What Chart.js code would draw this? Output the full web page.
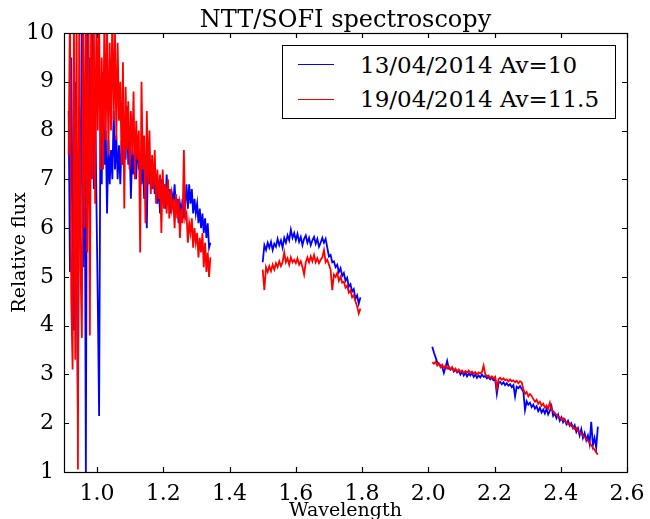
<!DOCTYPE html>
<html>
<head>
<meta charset="utf-8">
<script src="https://cdn.jsdelivr.net/npm/chart.js@4.4.1/dist/chart.umd.min.js"></script>
<style>
  html, body { margin: 0; padding: 0; background: #fff; }
  #wrap { position: relative; width: 650px; height: 519px; font-family: 'DejaVu Serif', serif; }
  #plotTitle { position: absolute; left: 64px; width: 563px; top: 7px; text-align: center;
               font-size: 24px; line-height: 24px; color: #000; }
  #legend { position: absolute; left: 282px; top: 45px; width: 332px; height: 72px;
            border: 1px solid #000; background: #fff; }
  .lg-line { position: absolute; left: 15px; width: 36px; height: 0; border-top: 1.6px solid; }
  .lg-text { position: absolute; left: 77px; font-size: 23px; line-height: 23px; color: #000; white-space: nowrap; }
</style>
</head>
<body>
<div id="wrap">
  <canvas id="spectrum" width="650" height="519"></canvas>
  <div id="plotTitle">NTT/SOFI spectroscopy</div>
  <div id="legend">
    <div class="lg-line" style="top:18px;border-color:#0000ff"></div>
    <div class="lg-text" style="top:8px">13/04/2014 Av=10</div>
    <div class="lg-line" style="top:53px;border-color:#ff0000"></div>
    <div class="lg-text" style="top:42px">19/04/2014 Av=11.5</div>
  </div>
</div>
<script>
// wavelength grids (start, step) of the three observed bands
const seg1Start = 0.914, seg1Step = 0.004;
const seg2Start = 1.500, seg2Step = 0.005;
const seg3Start = 2.012, seg3Step = 0.005;

// 13/04/2014 Av=10 (blue)
const blueBand1 = [
  8.4, 5.1, 9.5, 6.0, 3.9, 9.0, 5.5, 2.25, 8.5, 6.0,
  10.5, 5.2, 9.0, 1.0, 10.5, 6.5, 9.5, 7.0, 10.2, 6.8,
  8.8, 6.5, 4.5, 2.15, 8.3, 6.9, 9.2, 7.3, 8.0, 6.3,
  7.8, 6.9, 7.6, 7.0, 8.4, 7.2, 7.9, 7.0, 7.7, 6.9,
  7.8, 7.3, 8.0, 7.4, 8.5, 7.3, 7.8, 6.6, 7.6, 7.1,
  7.7, 7.0, 7.9, 7.2, 7.5, 6.9, 7.4, 6.6, 7.3, 6.0,
  7.6, 6.9, 7.2, 6.8, 7.25, 6.7, 7.0, 6.5, 6.9, 6.3,
  7.0, 6.6, 6.9, 6.4, 7.1, 6.6, 6.8, 6.3, 6.7, 6.5,
  6.9, 6.4, 6.6, 6.1, 6.5, 6.3, 6.6, 6.2, 6.5, 6.9,
  6.4, 6.9, 6.5, 6.8, 6.3, 6.6, 6.3, 6.5, 6.1, 6.4,
  6.0, 6.3, 5.9, 6.2, 5.8, 6.1, 5.6, 5.7
];
const blueBand2 = [
  5.3, 5.65, 5.55, 5.7, 5.6, 5.72, 5.55, 5.68, 5.62, 5.78,
  5.65, 5.75, 5.6, 5.8, 5.7, 5.85, 5.75, 5.97, 5.8, 5.9,
  5.75, 5.88, 5.72, 5.82, 5.65, 5.78, 5.85, 5.7, 5.8, 5.65,
  5.75, 5.82, 5.68, 5.78, 5.62, 5.7, 5.8, 5.7, 5.78, 5.6,
  5.42, 5.45, 5.3, 5.32, 5.2, 5.25, 5.1, 5.18, 5.02, 5.08,
  4.92, 4.98, 4.8, 4.85, 4.7, 4.75, 4.55, 4.62, 4.45, 4.58
];
const blueBand3 = [
  3.57, 3.45, 3.35, 3.25, 3.22, 3.18, 3.15, 3.03, 3.15, 3.28,
  3.12, 3.1, 3.14, 3.06, 3.1, 3.04, 3.08, 3.0, 3.06, 2.98,
  3.04, 2.96, 3.02, 2.98, 3.03, 2.95, 3.0, 2.93, 2.98, 2.94,
  3.0, 2.95, 2.97, 2.92, 2.95, 2.9, 2.93, 2.88, 2.9, 2.6,
  2.82, 2.85, 2.8, 2.84, 2.78, 2.82, 2.77, 2.8, 2.74, 2.78,
  2.55, 2.75, 2.72, 2.76, 2.7, 2.65, 2.27, 2.45, 2.38, 2.42,
  2.33, 2.38, 2.3, 2.35, 2.25, 2.32, 2.22, 2.28, 2.2, 2.3,
  2.18, 2.25, 2.35, 2.15, 2.2, 2.1, 2.18, 2.05, 2.12, 2.02,
  2.08, 1.98, 2.05, 1.95, 2.0, 1.9, 1.96, 1.82, 1.9, 1.75,
  1.88, 1.7, 1.8, 1.65, 1.75, 1.58, 2.03, 1.55, 1.7, 1.5,
  1.93
];

// 19/04/2014 Av=11.5 (red)
const redBand1 = [
  7.5, 10.5, 4.5, 3.1, 10.5, 3.3, 10.5, 1.05, 10.5, 5.2,
  3.75, 10.5, 6.0, 10.5, 5.5, 10.5, 3.8, 10.5, 7.0, 10.5,
  6.5, 10.5, 8.0, 10.5, 7.2, 9.5, 7.2, 10.5, 7.8, 10.2,
  7.5, 9.8, 8.0, 10.5, 8.2, 10.0, 7.8, 9.8, 8.2, 9.0,
  7.3, 9.4, 6.4, 8.9, 7.6, 8.6, 7.2, 8.4, 7.5, 8.8,
  7.0, 8.2, 7.4, 8.0, 5.5, 9.0, 7.2, 7.9, 6.1, 8.4,
  6.9, 8.0, 6.7, 7.5, 6.8, 7.6, 6.5, 7.2, 6.6, 7.1,
  5.9, 7.2, 6.4, 6.9, 6.3, 7.0, 6.2, 6.8, 6.4, 6.6,
  6.0, 6.7, 6.2, 6.6, 5.8, 6.4, 6.1, 7.6, 6.2, 6.3,
  5.7, 6.1, 5.9, 6.2, 5.6, 6.0, 5.7, 5.9, 5.4, 5.8,
  5.5, 5.9, 5.2, 5.7, 5.1, 5.5, 5.0, 5.4
];
const redBand2 = [
  5.15, 4.73, 5.2, 5.1, 5.22, 5.12, 5.25, 5.15, 5.28, 5.2,
  5.32, 5.22, 5.3, 5.5, 5.3, 5.38, 5.25, 5.4, 5.3, 5.35,
  5.28, 5.38, 5.25, 5.32, 5.2, 5.05, 5.3, 5.4, 5.3, 5.42,
  5.32, 5.45, 5.3, 5.38, 5.28, 5.35, 5.4, 5.55, 5.3, 5.35,
  5.25, 5.15, 4.73, 5.05, 5.0, 5.08, 4.92, 5.0, 4.88, 4.9,
  4.78, 4.82, 4.68, 4.72, 4.58, 4.62, 4.5, 4.4, 4.25, 4.35
];
const redBand3 = [
  3.25, 3.22, 3.26, 3.18, 3.22, 3.15, 3.2, 3.14, 3.18, 3.12,
  3.16, 3.1, 3.15, 3.08, 3.12, 3.06, 3.1, 3.05, 3.08, 3.03,
  3.07, 3.04, 3.08, 3.03, 3.06, 3.02, 3.05, 3.0, 3.04, 3.02,
  3.05, 3.18, 3.0, 2.96, 2.98, 2.93, 2.96, 2.92, 2.95, 2.72,
  2.9, 2.93, 2.89, 2.92, 2.88, 2.9, 2.86, 2.9, 2.86, 2.88,
  2.84, 2.87, 2.82, 2.86, 2.84, 2.7, 2.6, 2.64, 2.55, 2.6,
  2.56, 2.5, 2.44, 2.48, 2.4, 2.44, 2.36, 2.4, 2.32, 2.36,
  2.3, 2.42, 2.28, 2.25, 2.2, 2.17, 2.14, 2.12, 2.08, 2.1,
  2.04, 2.02, 1.98, 2.0, 1.94, 1.92, 1.88, 1.9, 1.84, 1.82,
  1.78, 1.74, 1.72, 1.68, 1.64, 1.6, 1.55, 1.5, 1.46, 1.4,
  1.36
];

const xTickValues = [1.0, 1.2, 1.4, 1.6, 1.8, 2.0, 2.2, 2.4, 2.6];
const yTickValues = [1, 2, 3, 4, 5, 6, 7, 8, 9, 10];

// join the bands, with a null point between them so the line breaks
function buildSpectrum(bands) {
  const pts = [];
  bands.forEach((b, k) => {
    b.values.forEach((v, i) => {
      pts.push({ x: +(b.start + i * b.step).toFixed(4), y: v });
    });
    if (k < bands.length - 1) {
      pts.push({ x: +(b.start + b.values.length * b.step).toFixed(4), y: null });
    }
  });
  return pts;
}

const bluePoints = buildSpectrum([
  { start: seg1Start, step: seg1Step, values: blueBand1 },
  { start: seg2Start, step: seg2Step, values: blueBand2 },
  { start: seg3Start, step: seg3Step, values: blueBand3 }
]);
const redPoints = buildSpectrum([
  { start: seg1Start, step: seg1Step, values: redBand1 },
  { start: seg2Start, step: seg2Step, values: redBand2 },
  { start: seg3Start, step: seg3Step, values: redBand3 }
]);

// black frame with inward ticks on all four sides
const frameTicks = {
  id: 'frameTicks',
  afterDatasetsDraw(chart) {
    const { ctx, chartArea: a, scales } = chart;
    const tick = 5;
    ctx.save();
    ctx.strokeStyle = '#000';
    ctx.lineWidth = 1.2;
    ctx.beginPath();
    scales.x.ticks.forEach(t => {
      const px = Math.round(scales.x.getPixelForValue(t.value)) + 0.5;
      ctx.moveTo(px, a.bottom); ctx.lineTo(px, a.bottom - tick);
      ctx.moveTo(px, a.top); ctx.lineTo(px, a.top + tick);
    });
    scales.y.ticks.forEach(t => {
      const py = Math.round(scales.y.getPixelForValue(t.value)) + 0.5;
      ctx.moveTo(a.left, py); ctx.lineTo(a.left + tick, py);
      ctx.moveTo(a.right, py); ctx.lineTo(a.right - tick, py);
    });
    ctx.stroke();
    ctx.strokeRect(Math.round(a.left) + 0.5, Math.round(a.top) + 0.5,
                   Math.round(a.width), Math.round(a.height));
    ctx.restore();
  }
};

const serif = 'DejaVu Serif';

new Chart(document.getElementById('spectrum'), {
  type: 'line',
  data: {
    datasets: [
      {
        label: '13/04/2014 Av=10',
        data: bluePoints,
        borderColor: '#0000ff',
        borderWidth: 1.8,
        pointRadius: 0,
        tension: 0,
        spanGaps: false,
        order: 1
      },
      {
        label: '19/04/2014 Av=11.5',
        data: redPoints,
        borderColor: '#ff0000',
        borderWidth: 1.8,
        pointRadius: 0,
        tension: 0,
        spanGaps: false,
        order: 0
      }
    ]
  },
  options: {
    responsive: false,
    animation: false,
    devicePixelRatio: 1,
    layout: { padding: { top: 33, right: 23, left: 0, bottom: 0 } },
    plugins: {
      legend: { display: false },
      title: { display: false },
      tooltip: { enabled: false }
    },
    scales: {
      x: {
        type: 'linear',
        min: 0.9,
        max: 2.6,
        grid: { display: false },
        border: { display: false },
        afterBuildTicks: s => { s.ticks = xTickValues.map(v => ({ value: v })); },
        afterFit: s => { s.height = 47; },
        ticks: {
          color: '#000',
          padding: 3,
          maxRotation: 0,
          autoSkip: false,
          font: { family: serif, size: 22, lineHeight: 1 },
          callback: v => v.toFixed(1)
        },
        title: {
          display: true,
          text: 'Wavelength',
          color: '#000',
          padding: { top: 0, bottom: 0 },
          font: { family: serif, size: 19, lineHeight: 0.8 }
        }
      },
      y: {
        type: 'linear',
        min: 1,
        max: 10,
        grid: { display: false },
        border: { display: false },
        afterBuildTicks: s => { s.ticks = yTickValues.map(v => ({ value: v })); },
        afterFit: s => { s.width = 64; },
        ticks: {
          color: '#000',
          padding: 2,
          font: { family: serif, size: 22, lineHeight: 1 }
        },
        title: {
          display: true,
          text: 'Relative flux',
          color: '#000',
          padding: { top: 9, bottom: 0 },
          font: { family: serif, size: 19, lineHeight: 1.2 }
        }
      }
    }
  },
  plugins: [frameTicks]
});
</script>
</body>
</html>
